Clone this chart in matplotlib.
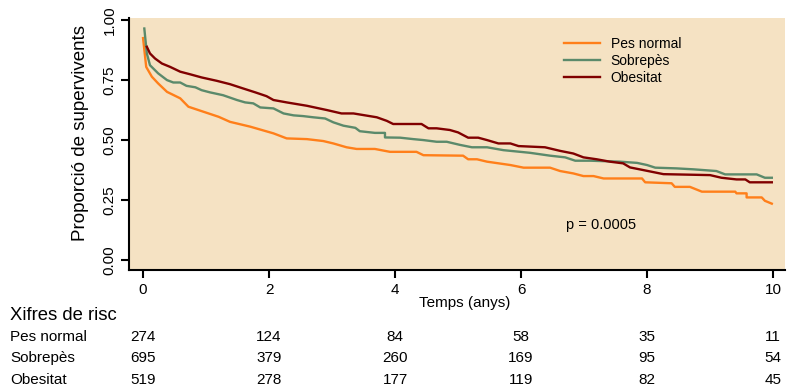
import matplotlib
matplotlib.use("Agg")
import matplotlib.pyplot as plt
import matplotlib.transforms as mtransforms

plt.rcParams['font.family'] = ['Liberation Sans', 'DejaVu Sans']

# survival curves (time in years, proportion)
t_normal = [0.0, 0.05, 0.14, 0.24, 0.38, 0.59, 0.72, 0.96, 1.20, 1.38, 1.70, 2.07, 2.28, 2.60,
            2.86, 3.02, 3.23, 3.39, 3.68, 3.92, 4.34, 4.45, 5.08, 5.16, 5.30, 5.46, 5.83, 6.04,
            6.46, 6.62, 6.83, 6.99, 7.15, 7.31, 7.92, 7.97, 8.39, 8.44, 8.68, 8.87, 9.40, 9.42,
            9.58, 9.58, 9.82, 9.87, 9.98]
s_normal = [0.925, 0.805, 0.764, 0.736, 0.701, 0.674, 0.639, 0.618, 0.597, 0.576, 0.556, 0.528,
            0.507, 0.504, 0.496, 0.486, 0.470, 0.463, 0.463, 0.451, 0.451, 0.437, 0.435, 0.420,
            0.420, 0.410, 0.396, 0.385, 0.385, 0.371, 0.361, 0.350, 0.350, 0.340, 0.340, 0.324,
            0.320, 0.305, 0.305, 0.285, 0.285, 0.278, 0.278, 0.261, 0.261, 0.247, 0.235]

t_sobre = [0.02, 0.06, 0.11, 0.24, 0.38, 0.48, 0.59, 0.69, 0.83, 0.93, 1.06, 1.27, 1.49, 1.62,
           1.75, 1.86, 2.07, 2.23, 2.39, 2.54, 2.70, 2.89, 3.02, 3.18, 3.37, 3.44, 3.68, 3.84,
           3.84, 4.08, 4.29, 4.45, 4.66, 4.82, 5.03, 5.22, 5.46, 5.72, 6.14, 6.46, 6.70, 6.86,
           7.10, 7.57, 7.84, 8.00, 8.13, 8.47, 8.74, 9.10, 9.24, 9.74, 9.87, 9.98]
s_sobre = [0.965, 0.861, 0.812, 0.778, 0.750, 0.740, 0.740, 0.726, 0.720, 0.708, 0.699, 0.687,
           0.667, 0.657, 0.653, 0.636, 0.632, 0.611, 0.603, 0.600, 0.595, 0.590, 0.574, 0.560,
           0.551, 0.537, 0.530, 0.530, 0.511, 0.510, 0.504, 0.500, 0.493, 0.493, 0.480, 0.470,
           0.470, 0.458, 0.447, 0.435, 0.428, 0.414, 0.414, 0.410, 0.405, 0.396, 0.385, 0.382,
           0.378, 0.371, 0.357, 0.357, 0.343, 0.343]

t_obes = [0.06, 0.11, 0.19, 0.30, 0.43, 0.59, 0.75, 0.93, 1.17, 1.38, 1.59, 1.78, 1.96, 2.07,
          2.28, 2.60, 2.92, 3.15, 3.34, 3.71, 3.87, 3.97, 4.42, 4.53, 4.66, 4.87, 5.00, 5.16,
          5.32, 5.46, 5.64, 5.83, 5.96, 6.38, 6.62, 6.83, 6.99, 7.20, 7.41, 7.62, 7.73, 7.94,
          8.26, 9.00, 9.18, 9.42, 9.56, 9.63, 9.98]
s_obes = [0.889, 0.861, 0.840, 0.819, 0.805, 0.785, 0.774, 0.761, 0.747, 0.733, 0.715, 0.699,
          0.683, 0.667, 0.657, 0.643, 0.625, 0.611, 0.611, 0.595, 0.580, 0.567, 0.567, 0.549,
          0.549, 0.542, 0.532, 0.510, 0.510, 0.500, 0.486, 0.486, 0.475, 0.470, 0.455, 0.444,
          0.428, 0.420, 0.410, 0.403, 0.386, 0.375, 0.358, 0.354, 0.343, 0.336, 0.336, 0.324,
          0.324]

groups = ['Pes normal', 'Sobrepès', 'Obesitat']
colors = ['#FF7F1A', '#5B8A6B', '#800000']

risk_times = [0, 2, 4, 6, 8, 10]
risk_normal = [274, 124, 84, 58, 35, 11]
risk_sobre = [695, 379, 260, 169, 95, 54]
risk_obes = [519, 278, 177, 119, 82, 45]

p_text = 'p = 0.0005'

fig = plt.figure(figsize=(7.87, 3.87), dpi=100)
ax = fig.add_axes([0.164, 0.302, 0.8335, 0.651])
ax.set_facecolor('#F5E2C3')

series = [(t_normal, s_normal), (t_sobre, s_sobre), (t_obes, s_obes)]
for (t, s), lab, c in zip(series, groups, colors):
    ax.plot(t, s, color=c, lw=1.7, label=lab)

ax.set_xlim(-0.222, 10.19)
ax.set_ylim(-0.042, 1.008)
ax.set_xticks(risk_times)
ax.set_yticks([0, 0.25, 0.5, 0.75, 1.0])
ax.set_yticklabels(['0.00', '0.25', '0.50', '0.75', '1.00'], rotation=90, va='center')
ax.tick_params(axis='both', length=6, width=1.5, labelsize=11, pad=3)
ax.spines['top'].set_visible(False)
ax.spines['right'].set_visible(False)
for sp in ['left', 'bottom']:
    ax.spines[sp].set_linewidth(1.5)

leg = ax.legend(loc='upper left', bbox_to_anchor=(0.655, 0.947), frameon=False,
                fontsize=10, handlelength=2.6, handletextpad=0.75, labelspacing=0.22,
                borderaxespad=0)

ax.text(7.27, 0.146, p_text, fontsize=10.5, ha='center', va='center')

fig.text(0.102, 0.656, 'Proporció de supervivents', rotation=90, ha='center', va='center',
         fontsize=13.5)
fig.text(0.591, 0.218, 'Temps (anys)', ha='center', va='center', fontsize=11)

# risk table
trans = mtransforms.blended_transform_factory(ax.transData, fig.transFigure)
fig.text(0.0127, 0.186, 'Xifres de risc', ha='left', va='center', fontsize=13.3)
rows = [risk_normal, risk_sobre, risk_obes]
row_y = [0.129, 0.074, 0.017]
for lab, vals, y in zip(groups, rows, row_y):
    fig.text(0.0127, y, lab, ha='left', va='center', fontsize=11)
    for t, v in zip(risk_times, vals):
        ax.text(t, y, str(v), transform=trans, ha='center', va='center', fontsize=11,
                clip_on=False)

fig.savefig('out.png', dpi=100)
